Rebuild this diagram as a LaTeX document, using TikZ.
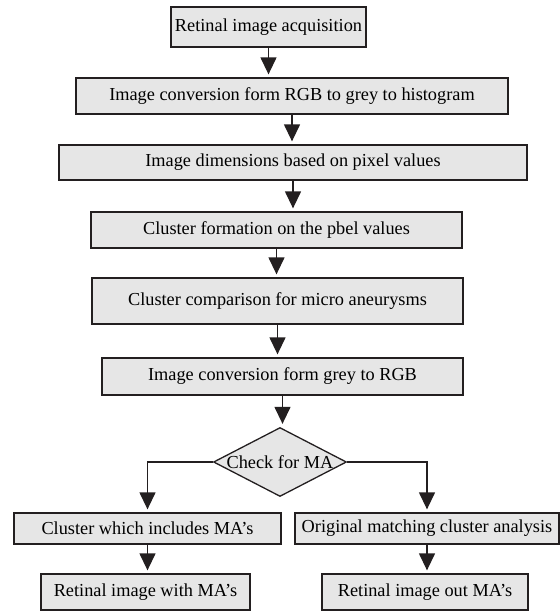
\documentclass[tikz,border=0pt]{standalone}
\usepackage{fontspec}
\setmainfont{Liberation Serif}
\usetikzlibrary{arrows.meta,shapes.geometric}
\definecolor{cbox}{HTML}{E6E6E6}
\definecolor{cline}{HTML}{231F20}
\tikzset{
  every picture/.style={>={Triangle[width=16pt,length=17pt]}, font=\fontsize{18.3pt}{22pt}\selectfont},
  stage/.style={draw=cline, fill=cbox, line width=1.3pt, inner sep=0pt},
  check/.style={diamond, draw=cline, fill=cbox, line width=1.3pt, inner sep=0pt,
    aspect=1.93, minimum width=133pt, minimum height=69pt},
  flow/.style={->, cline, line width=1.3pt, shorten >=3pt},
}

\begin{document}
\begin{tikzpicture}[x=1pt,y=-1pt]
  \useasboundingbox (0,0) rectangle (560,611);
  % main chain
  \node[stage, minimum width=195pt, minimum height=40pt] (b1) at (268.5,27) {Retinal image acquisition};
  \node[stage, minimum width=432pt, minimum height=36pt] (b2) at (292,96) {Image conversion form RGB to grey to histogram};
  \node[stage, minimum width=468pt, minimum height=35pt] (b3) at (293,162.5) {Image dimensions based on pixel values};
  \node[stage, minimum width=371pt, minimum height=36pt] (b4) at (276.5,230) {Cluster formation on the pbel values};
  \node[stage, minimum width=371pt, minimum height=46pt] (b5) at (277.5,301) {Cluster comparison for micro aneurysms};
  \node[stage, minimum width=361pt, minimum height=37pt] (b6) at (282.5,376.5) {Image conversion form grey to RGB};
  \node[check] (dia) at (280,462) {Check for MA};
  % two branches
  \node[stage, minimum width=267pt, minimum height=31pt] (b7) at (147.5,528.5) {Cluster which includes MA’s};
  \node[stage, minimum width=264pt, minimum height=31pt] (b8) at (427,528.5) {Original matching cluster analysis};
  \node[stage, minimum width=209pt, minimum height=36pt] (b9) at (145.5,592) {Retinal image with MA’s};
  \node[stage, minimum width=206pt, minimum height=36pt] (b10) at (425,592) {Retinal image out MA’s};

  \foreach \s/\t in {b1/b2, b2/b3, b3/b4, b4/b5, b5/b6, b6/dia, b7/b9, b8/b10}
    \draw[flow] (\s.south) -- (\s.south |- \t.north);
  \draw[flow] (dia.west) -| (b7.north);
  \draw[flow] (dia.east) -| (b8.north);
\end{tikzpicture}
\end{document}
